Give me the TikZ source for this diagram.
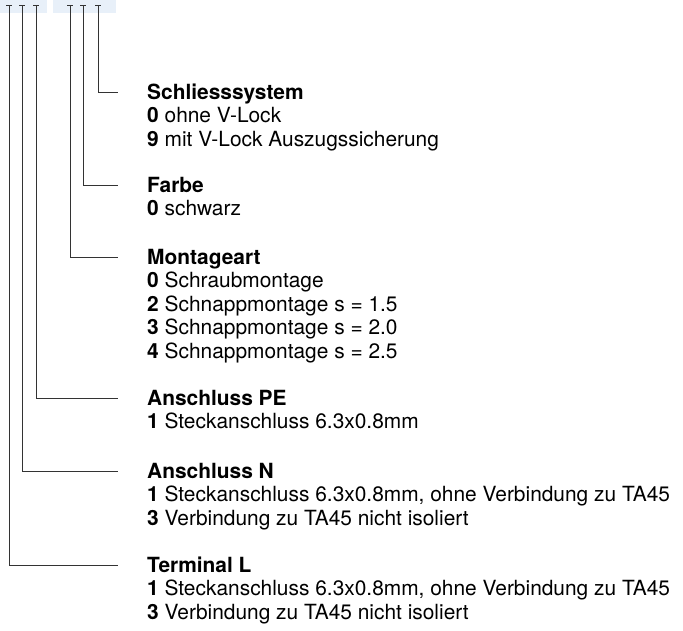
\documentclass[tikz,border=0pt]{standalone}
\usepackage{fontspec}
\setmainfont{TeX Gyre Heros}
\definecolor{codeblue}{RGB}{232,240,249}
\definecolor{leadgray}{RGB}{51,51,51}
\tikzset{
  lead/.style={draw=leadgray, line width=1pt},
  % base anchor of a multi-line node is the baseline of its last line
  field/.style={anchor=base west, inner sep=0pt, align=left,
    font=\fontsize{20.9}{23.6}\selectfont},
}
\begin{document}
\begin{tikzpicture}[x=1pt,y=-1pt]
\useasboundingbox (0,0) rectangle (683,630);

% Code boxes
\fill[codeblue] (0,0) rectangle (47,12.7);
\fill[codeblue] (53,0) rectangle (116,12.7);

% Ticks
\foreach \name/\x in {tl/9, tn/22, tpe/36, tmont/70, tfarbe/83, tschl/98}{
  \coordinate (\name) at (\x,5);
  \draw[lead] ([xshift=-3pt]\name) -- ([xshift=3pt]\name);
}

% Schliesssystem
\coordinate (eschl) at (118,92);
\node[field] (schl) at (147,99+2*23.6) {
  \textbf{Schliesssystem}\\
  \textbf{0} ohne V-Lock\\
  \textbf{9} mit V-Lock Auszugssicherung
};
\draw[lead] (tschl) |- (eschl);

% Farbe
\coordinate (efarbe) at (118,185);
\node[field] (farbe) at (147,192+23.6) {
  \textbf{Farbe}\\
  \textbf{0} schwarz
};
\draw[lead] (tfarbe) |- (efarbe);

% Montageart
\coordinate (emont) at (118,257);
\node[field] (mont) at (147,264+4*23.6) {
  \textbf{Montageart}\\
  \textbf{0} Schraubmontage\\
  \textbf{2} Schnappmontage s = 1.5\\
  \textbf{3} Schnappmontage s = 2.0\\
  \textbf{4} Schnappmontage s = 2.5
};
\draw[lead] (tmont) |- (emont);

% Anschluss PE
\coordinate (epe) at (118,398);
\node[field] (pe) at (147,405+23.6) {
  \textbf{Anschluss PE}\\
  \textbf{1} Steckanschluss 6.3x0.8mm
};
\draw[lead] (tpe) |- (epe);

% Anschluss N
\coordinate (en) at (118,471);
\node[field] (n) at (147,478+2*23.6) {
  \textbf{Anschluss N}\\
  \textbf{1} Steckanschluss 6.3x0.8mm, ohne Verbindung zu TA45\\
  \textbf{3} Verbindung zu TA45 nicht isoliert
};
\draw[lead] (tn) |- (en);

% Terminal L
\coordinate (el) at (118,565);
\node[field] (l) at (147,572+2*23.6) {
  \textbf{Terminal L}\\
  \textbf{1} Steckanschluss 6.3x0.8mm, ohne Verbindung zu TA45\\
  \textbf{3} Verbindung zu TA45 nicht isoliert
};
\draw[lead] (tl) |- (el);
\end{tikzpicture}
\end{document}
